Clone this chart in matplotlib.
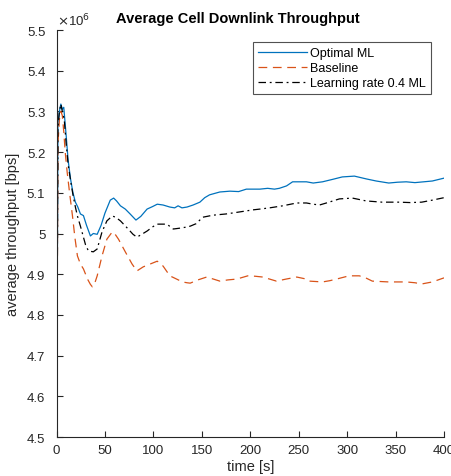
import numpy as np
import matplotlib
matplotlib.use("Agg")
import matplotlib.pyplot as plt
from matplotlib.ticker import FuncFormatter

plt.rcParams['font.family'] = ['Liberation Sans', 'DejaVu Sans']

# ---- data (throughput in units of 1e6 bps) ----
opt_t = [0, 1.5, 3, 4.5, 6, 7.5, 10, 12, 14.5, 17, 19.5, 22, 24.7, 27.8, 31, 35, 38, 42, 46, 50,
         55.5, 59, 62, 66, 71, 76, 82, 87, 93.5, 99, 104, 110, 117, 122, 125.5, 129.5, 134.7, 141,
         148, 153, 158, 168.6, 179, 188, 196, 210, 218, 225, 230, 237.5, 243.7, 258, 265, 274.6,
         285, 295, 307.5, 320, 330, 343, 352, 361, 370, 379, 388, 400]
opt_v = [4.45, 5.27, 5.30, 5.318, 5.305, 5.31, 5.24, 5.18, 5.134, 5.10, 5.077, 5.065, 5.048, 5.044,
         5.02, 4.994, 5.0, 4.998, 5.02, 5.05, 5.082, 5.087, 5.08, 5.068, 5.06, 5.048, 5.033, 5.042,
         5.060, 5.066, 5.072, 5.07, 5.065, 5.063, 5.068, 5.063, 5.065, 5.07, 5.077, 5.088, 5.095,
         5.102, 5.104, 5.103, 5.109, 5.109, 5.111, 5.109, 5.111, 5.117, 5.127, 5.127, 5.124, 5.127,
         5.133, 5.139, 5.141, 5.134, 5.129, 5.124, 5.126, 5.127, 5.125, 5.127, 5.129, 5.136]

base_t = [0, 1.5, 3, 4.5, 6, 7.5, 9, 11, 13.5, 16.5, 19, 21.6, 24.7, 27.8, 30, 32, 35, 37, 39.5, 42,
          47, 52, 57.6, 60, 64, 71, 78, 83, 89.5, 96.7, 104, 110, 117, 124, 130, 134.7, 138, 146,
          155, 162, 168.6, 177, 186, 197.5, 205, 213, 220, 227, 237, 248, 258, 261, 274.6, 282,
          289, 302, 312.6, 320, 326, 343, 361, 370, 377, 388, 400]
base_v = [4.45, 5.22, 5.28, 5.30, 5.29, 5.25, 5.20, 5.151, 5.10, 5.043, 4.99, 4.945, 4.925, 4.913,
          4.90, 4.888, 4.875, 4.869, 4.878, 4.896, 4.945, 4.986, 5.004, 5.0, 4.986, 4.955, 4.925,
          4.908, 4.918, 4.925, 4.932, 4.920, 4.896, 4.888, 4.881, 4.879, 4.878, 4.886, 4.893, 4.888,
          4.883, 4.886, 4.888, 4.896, 4.895, 4.893, 4.888, 4.883, 4.888, 4.893, 4.888, 4.883, 4.881,
          4.884, 4.888, 4.896, 4.896, 4.89, 4.883, 4.881, 4.881, 4.879, 4.876, 4.881, 4.891]

lr_t = [0, 1.5, 3, 4.5, 6, 8, 10, 12, 14.5, 17, 19.5, 21.6, 24.7, 27.8, 30, 33, 38, 42, 47, 52,
        57.6, 61, 66, 74, 79, 83, 88, 93.5, 99, 104, 114, 120.5, 127, 134.7, 138, 144, 151, 161.6,
        175, 189, 202.6, 210, 220, 233.4, 248, 258, 265, 271.5, 280, 292, 305.5, 319.7, 336,
        353.7, 365, 377, 388, 400]
lr_v = [4.45, 5.26, 5.30, 5.318, 5.30, 5.28, 5.22, 5.17, 5.13, 5.095, 5.065, 5.043, 5.018, 4.991,
        4.972, 4.957, 4.955, 4.962, 5.004, 5.031, 5.043, 5.04, 5.031, 5.011, 4.998, 4.991, 4.998,
        5.006, 5.016, 5.023, 5.023, 5.011, 5.013, 5.016, 5.018, 5.024, 5.040, 5.045, 5.048, 5.053,
        5.058, 5.060, 5.063, 5.068, 5.075, 5.075, 5.072, 5.070, 5.076, 5.085, 5.087, 5.080, 5.077,
        5.077, 5.076, 5.077, 5.082, 5.088]

labels = ['Optimal ML', 'Baseline', 'Learning rate 0.4 ML']
x_ticks = [0, 50, 100, 150, 200, 250, 300, 350, 400]
y_ticks = [4.5, 4.6, 4.7, 4.8, 4.9, 5.0, 5.1, 5.2, 5.3, 5.4, 5.5]

W, H = 451, 477
fig = plt.figure(figsize=(W / 100, H / 100), dpi=100)
ax = fig.add_axes([56.5 / W, 1 - 438 / H, (444 - 56.5) / W, (438 - 31) / H])

tc = '#262626'
scale = 1e6
ax.plot(opt_t, np.array(opt_v) * scale, color='#0072BD', lw=0.9, ls='-', label=labels[0])
ax.plot(base_t, np.array(base_v) * scale, color='#D95319', lw=0.9, ls=(0, (7, 4.5)), label=labels[1])
ax.plot(lr_t, np.array(lr_v) * scale, color='black', lw=0.9, ls=(0, (6, 3, 1.5, 3)), label=labels[2])

ax.set_xlim(0, 400)
ax.set_ylim(4.5 * scale, 5.5 * scale)
ax.set_xticks(x_ticks)
ax.set_yticks(np.array(y_ticks) * scale)
ax.yaxis.set_major_formatter(FuncFormatter(lambda v, p: '%g' % round(v / scale, 1)))

for s in ['top', 'right']:
    ax.spines[s].set_visible(False)
for s in ['left', 'bottom']:
    ax.spines[s].set_color(tc)
    ax.spines[s].set_linewidth(0.8)
ax.tick_params(direction='in', length=4, width=0.8, colors=tc, labelsize=9.5)
ax.tick_params(axis='y', pad=8)
ax.tick_params(axis='x', pad=5)

ax.set_xlabel('time [s]', fontsize=10.5, color=tc, labelpad=2)
ax.set_ylabel('average throughput [bps]', fontsize=10.5, color=tc, labelpad=5)

fig.text(238 / W, 1 - 19 / H, 'Average Cell Downlink Throughput', ha='center', va='center',
         fontsize=10.5, fontweight='bold', color='black')
fig.text(57 / W, 1 - 21 / H, r'$\times$10$^{6}$', ha='left', va='center', fontsize=9.5, color=tc)

leg = ax.legend(loc='upper right', bbox_to_anchor=(431 / W, 1 - 43 / H), bbox_transform=fig.transFigure,
                fontsize=9, frameon=True, fancybox=False, edgecolor=tc, handlelength=3.9,
                handletextpad=0.3, borderpad=0.4, labelspacing=0.25, borderaxespad=0)
leg.get_frame().set_linewidth(0.8)
for t in leg.get_texts():
    t.set_color('black')

fig.savefig('out.png', dpi=100, facecolor='white')
